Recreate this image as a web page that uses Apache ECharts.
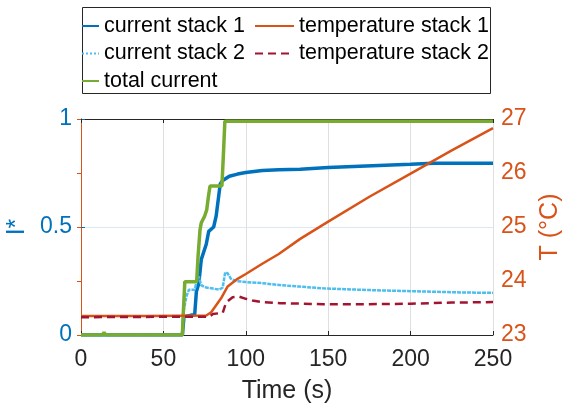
<!DOCTYPE html>
<html>
<head>
<meta charset="utf-8">
<script src="https://cdn.jsdelivr.net/npm/echarts@6/dist/echarts.min.js"></script>
<style>
  html, body { margin: 0; padding: 0; background: #fff; }
  #chart { width: 563px; height: 403px; }
</style>
</head>
<body>
<div id="chart"></div>
<script>
// current stack 1 (left axis)
var tCs1 = [0, 61.5, 62.5, 66, 69, 70, 71.5, 73, 76, 77.5, 80.5, 82, 84.5, 86, 90, 95, 100, 110, 120, 133, 150, 173, 200, 214, 250];
var cs1 = [0, 0, 0.085, 0.09, 0.095, 0.2, 0.24, 0.35, 0.42, 0.48, 0.5, 0.55, 0.7, 0.715, 0.735, 0.745, 0.752, 0.762, 0.765, 0.767, 0.775, 0.782, 0.79, 0.795, 0.795];

// current stack 2 (left axis)
var tCs2 = [0, 61.5, 62, 64, 65.5, 69, 70.5, 71.5, 73, 76, 80, 84, 86, 87.5, 89, 91, 94, 100, 110, 122, 133, 147, 160, 175, 200, 215, 230, 250];
var cs2 = [0, 0, 0.1, 0.18, 0.21, 0.21, 0.26, 0.27, 0.23, 0.22, 0.215, 0.21, 0.22, 0.29, 0.285, 0.26, 0.25, 0.245, 0.24, 0.23, 0.224, 0.216, 0.212, 0.208, 0.203, 0.2, 0.197, 0.195];

// total current (left axis)
var tTot = [0, 13, 14, 15, 61.5, 62, 63, 70.2, 71, 72.2, 73, 75, 76.3, 77.3, 78.3, 85.5, 86.5, 87.3, 100, 150, 200, 250];
var totCur = [0, 0, 0.012, 0, 0, 0.09, 0.247, 0.247, 0.36, 0.486, 0.52, 0.55, 0.58, 0.64, 0.69, 0.69, 0.85, 0.99, 0.99, 0.99, 0.99, 0.99];

// temperature stack 1 (right axis, °C)
var tT1 = [0, 40, 76, 79, 82, 85, 89, 95, 100, 110, 120, 133, 150, 175, 200, 225, 250];
var temp1 = [23.35, 23.35, 23.36, 23.42, 23.55, 23.68, 23.9, 24.04, 24.13, 24.32, 24.5, 24.78, 25.1, 25.56, 25.99, 26.42, 26.83];

// temperature stack 2 (right axis, °C)
var tT2 = [0, 78, 80, 86, 88, 92, 96, 100, 104, 110, 121, 147, 175, 200, 225, 250];
var temp2 = [23.33, 23.34, 23.39, 23.41, 23.6, 23.7, 23.71, 23.67, 23.64, 23.61, 23.59, 23.57, 23.57, 23.58, 23.6, 23.61];

function zip(xs, ys) {
  var out = [];
  for (var i = 0; i < xs.length; i++) out.push([xs[i], ys[i]]);
  return out;
}

var font = 'Liberation Sans';
var dark = '#262626';
var blue = '#0072BD';
var orange = '#D95319';
var legendText = { fontFamily: font, fontSize: 21.5, color: '#000', lineHeight: 20 };
// hide the marker the legend puts on line icons
var noMarker = { color: 'rgba(0,0,0,0)', borderWidth: 0 };

var chart = echarts.init(document.getElementById('chart'));
var option = {
  animation: false,
  textStyle: { fontFamily: font },
  grid: { left: 81, right: 70, top: 119, bottom: 68, outerBoundsMode: 'none' },
  graphic: [{
    type: 'rect',
    left: 82, top: 7,
    shape: { width: 408, height: 86 },
    style: { fill: '#fff', stroke: dark, lineWidth: 1 },
    z: -1
  }],
  legend: [{
    left: 81, top: 15, padding: 0,
    orient: 'vertical',
    itemWidth: 17, itemHeight: 14, itemGap: 5.5,
    itemStyle: noMarker,
    textStyle: legendText,
    data: [
      'current stack 1',
      { name: 'current stack 2', lineStyle: { type: [2, 2] } },
      'total current'
    ]
  }, {
    left: 254, top: 15, padding: 0,
    orient: 'vertical',
    itemWidth: 39, itemHeight: 14, itemGap: 5.5,
    itemStyle: noMarker,
    textStyle: legendText,
    data: ['temperature stack 1', 'temperature stack 2']
  }],
  xAxis: [{
    type: 'value', min: 0, max: 250, interval: 50,
    name: 'Time (s)', nameLocation: 'middle', nameGap: 44,
    nameTextStyle: { fontSize: 25, color: dark, fontFamily: font },
    axisLine: { lineStyle: { color: dark, width: 1 } },
    axisTick: { inside: true, length: 4, lineStyle: { color: dark } },
    axisLabel: { fontSize: 23, color: dark, margin: 13, fontFamily: font },
    splitLine: { show: true, lineStyle: { color: '#dfdfdf', width: 1 } }
  }, {
    type: 'value', min: 0, max: 250, interval: 50, position: 'top',
    axisLine: { show: true, lineStyle: { color: dark, width: 1 } },
    axisTick: { inside: true, length: 4, lineStyle: { color: dark } },
    axisLabel: { show: false },
    splitLine: { show: false }
  }],
  yAxis: [{
    type: 'value', min: 0, max: 1, interval: 0.5, position: 'left',
    name: 'I*', nameLocation: 'middle', nameGap: 41,
    nameTextStyle: { fontSize: 25, color: blue, fontFamily: font },
    axisLine: { show: true, lineStyle: { color: blue, width: 1 } },
    axisTick: { show: true, inside: true, length: 4, lineStyle: { color: blue } },
    axisLabel: { fontSize: 23, color: blue, margin: 9, fontFamily: font },
    splitLine: { show: true, lineStyle: { color: '#d9eaf5', width: 1 } }
  }, {
    type: 'value', min: 23, max: 27, interval: 1, position: 'right',
    name: 'T (°C)', nameLocation: 'middle', nameGap: 44,
    nameTextStyle: { fontSize: 25, color: orange, fontFamily: font },
    axisLine: { show: true, lineStyle: { color: orange, width: 1 } },
    axisTick: { show: true, inside: true, length: 4, lineStyle: { color: orange } },
    axisLabel: { fontSize: 23, color: orange, margin: 8, fontFamily: font },
    splitLine: { show: false }
  }],
  series: [{
    name: 'current stack 1', type: 'line', yAxisIndex: 0,
    showSymbol: false, symbol: 'none',
    lineStyle: { color: blue, width: 3.5 }, itemStyle: { color: blue },
    data: zip(tCs1, cs1)
  }, {
    name: 'current stack 2', type: 'line', yAxisIndex: 0,
    showSymbol: false, symbol: 'none',
    lineStyle: { color: '#4DBEEE', width: 2.5, type: [4, 1] }, itemStyle: { color: '#4DBEEE' },
    data: zip(tCs2, cs2)
  }, {
    name: 'total current', type: 'line', yAxisIndex: 0,
    showSymbol: false, symbol: 'none',
    lineStyle: { color: '#77AC30', width: 3.5 }, itemStyle: { color: '#77AC30' },
    data: zip(tTot, totCur)
  }, {
    name: 'temperature stack 1', type: 'line', yAxisIndex: 1,
    showSymbol: false, symbol: 'none',
    lineStyle: { color: orange, width: 2.5 }, itemStyle: { color: orange },
    data: zip(tT1, temp1)
  }, {
    name: 'temperature stack 2', type: 'line', yAxisIndex: 1,
    showSymbol: false, symbol: 'none',
    lineStyle: { color: '#A2142F', width: 2.5, type: [8, 5] }, itemStyle: { color: '#A2142F' },
    data: zip(tT2, temp2)
  }]
};
chart.setOption(option);
</script>
</body>
</html>
